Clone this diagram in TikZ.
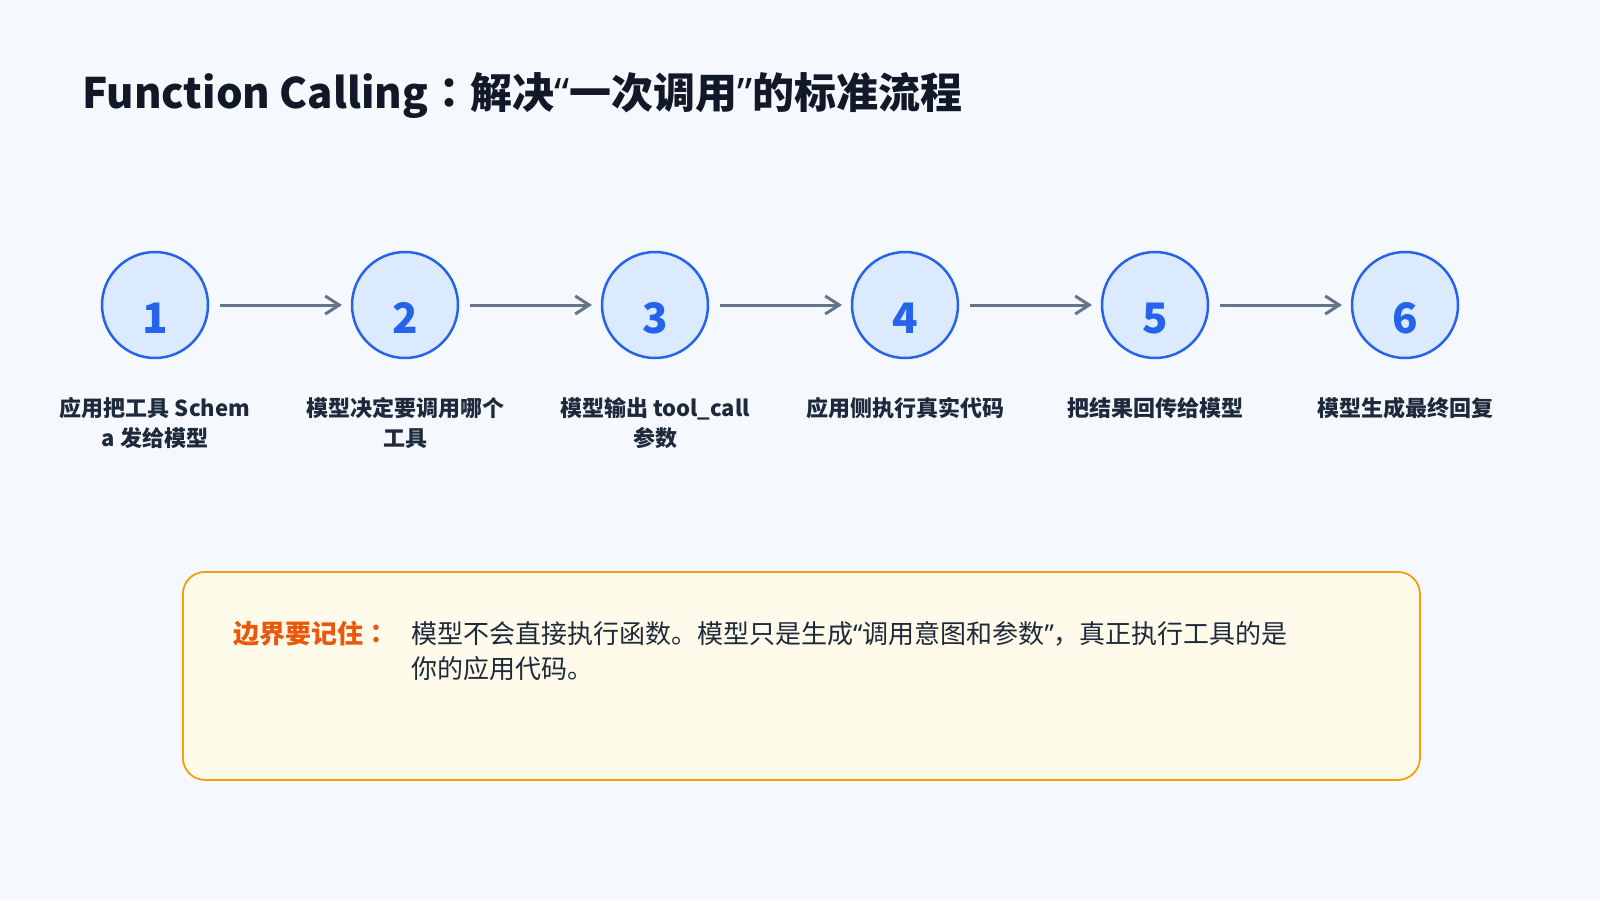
\documentclass[tikz,border=0pt]{standalone}
\usepackage{fontspec}
\setmainfont{Noto Sans CJK SC}
\newfontfamily\quotefont{Noto Sans}
\newfontfamily\colonfont{Noto Sans CJK TC}
\usetikzlibrary{positioning, arrows.meta}
\definecolor{pagebg}{HTML}{F5F9FD}
\definecolor{titleink}{HTML}{111827}
\definecolor{labelink}{HTML}{1E293B}
\definecolor{stepblue}{HTML}{2563EB}
\definecolor{steplight}{HTML}{DBEAFE}
\definecolor{flowgray}{HTML}{64748B}
\definecolor{noteorange}{HTML}{F59E0B}
\definecolor{notefill}{HTML}{FEFBEA}
\definecolor{notehead}{HTML}{EA580C}
% narrow curly quotes, centred colon
\newcommand{\lqt}{{\quotefont “}}
\newcommand{\rqt}{{\quotefont ”}}
\newcommand{\fcolon}{{\colonfont ：}}

\begin{document}
\begin{tikzpicture}[
x=1pt, y=-1pt,
every node/.style={inner sep=0pt},
stepcircle/.style={
    circle,
    draw=stepblue,
    fill=steplight,
    line width=2.5pt,
    minimum size=106pt,
    outer sep=0pt,
    },
stepnum/.style={
    anchor=base,
    text=stepblue,
    font=\fontsize{42}{42}\selectfont\bfseries,
    },
steplabel/.style={
    anchor=base,
    align=center,
    text=labelink,
    font=\fontsize{22}{30}\selectfont\bfseries,
    },
flow/.style={
    draw=flowgray,
    line width=3pt,
    -{Straight Barb[length=14pt,width=18pt]},
    shorten <=12pt,
    shorten >=10pt,
    },
]
\fill[pagebg] (0,0) rectangle (1600,900);

% title
\node[anchor=base west, text=titleink,
      font=\fontsize{42}{50}\selectfont\bfseries] (title) at (82,108)
     {Function Calling\fcolon 解决\lqt 一次调用\rqt 的标准流程};

% steps
\node[stepcircle] (s1) at (155,305) {};
\foreach \i [evaluate=\i as \prev using int(\i-1)] in {2,...,6}
    \node[stepcircle, right=144pt of s\prev] (s\i) {};
\foreach \i in {1,...,6}
    \node[stepnum] (n\i) at ([yshift=-28pt]s\i.center) {\i};
% base of a label is its last line
\foreach \i/\dy/\txt in {1/141pt/{应用把工具 Schem\\a 发给模型},
                         2/141pt/{模型决定要调用哪个\\工具},
                         3/141pt/{模型输出 tool\_call\\参数},
                         4/111pt/{应用侧执行真实代码},
                         5/111pt/{把结果回传给模型},
                         6/111pt/{模型生成最终回复}}
    \node[steplabel] (l\i) at ([yshift=-\dy]s\i.center) {\txt};
\foreach \i [evaluate=\i as \next using int(\i+1)] in {1,...,5}
    \draw[flow] (s\i) -- (s\next);

% note box
\node[draw=noteorange, fill=notefill, line width=1.8pt, rounded corners=22pt,
      minimum width=1237pt, minimum height=208pt, anchor=north west]
     (note) at (182,571) {};
\node[anchor=base west, text=notehead,
      font=\fontsize{26}{35}\selectfont\bfseries] (notehead) at (233,643)
     {边界要记住\fcolon};
\node[anchor=base west, align=left, text=labelink,
      font=\fontsize{26}{35}\selectfont] (notebody) at (411,678)
     {模型不会直接执行函数。模型只是生成\lqt 调用意图和参数\rqt ，真正执行工具的是\\
      你的应用代码。};
\end{tikzpicture}
\end{document}
